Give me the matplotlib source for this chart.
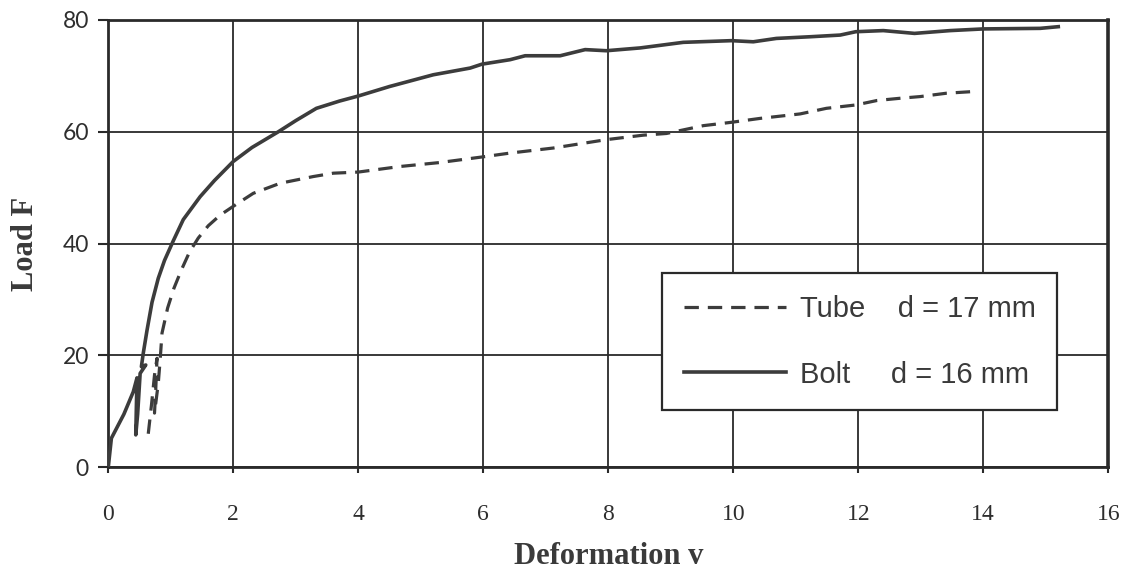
import matplotlib
matplotlib.use("Agg")
import matplotlib.pyplot as plt

# measured load-deformation curves
tube_v = [0.64, 0.69, 0.74, 0.78, 0.76, 0.74, 0.80, 0.83, 0.86, 0.95, 1.05, 1.17, 1.30,
          1.44, 1.60, 1.79, 2.03, 2.32, 2.75, 3.28, 3.60, 4.00, 4.67, 5.30, 5.98, 6.43,
          7.12, 7.97, 8.56, 8.93, 9.52, 9.97, 10.43, 11.07, 11.49, 11.96, 12.30, 12.67,
          12.99, 13.41, 13.84]
tube_F = [6.0, 11.0, 16.5, 19.5, 14.0, 9.7, 15.0, 19.2, 24.0, 28.5, 32.0, 35.3, 38.5,
          41.0, 43.2, 45.1, 46.9, 49.0, 50.8, 52.0, 52.6, 52.8, 53.8, 54.5, 55.5, 56.2,
          57.1, 58.6, 59.4, 59.7, 61.1, 61.7, 62.4, 63.2, 64.2, 64.8, 65.6, 66.0,
          66.3, 66.9, 67.2]

bolt_v = [0, 0.05, 0.25, 0.40, 0.46, 0.44, 0.47, 0.51, 0.60, 0.53, 0.56, 0.62, 0.70,
          0.80, 0.90, 1.04, 1.20, 1.47, 1.70, 2.00, 2.30, 2.72, 3.00, 3.33, 3.70, 4.00,
          4.50, 5.20, 5.79, 5.98, 6.43, 6.67, 7.23, 7.63, 7.97, 8.51, 9.20, 9.97, 10.32,
          10.69, 11.23, 11.71, 11.96, 12.40, 12.90, 13.47, 14.00, 14.91, 15.20]
bolt_F = [0, 5.2, 9.5, 13.5, 16.0, 5.8, 9.5, 16.8, 18.3, 18.0, 20.4, 24.5, 29.5,
          33.8, 37.0, 40.5, 44.3, 48.4, 51.3, 54.7, 57.2, 60.0, 62.0, 64.2, 65.5, 66.4,
          68.1, 70.2, 71.4, 72.1, 72.9, 73.6, 73.6, 74.7, 74.5, 75.0, 76.0, 76.3, 76.1,
          76.7, 77.0, 77.3, 77.9, 78.1, 77.6, 78.1, 78.4, 78.5, 78.8]

x_ticks = [0, 2, 4, 6, 8, 10, 12, 14, 16]
y_ticks = [0, 20, 40, 60, 80]

ink = "#3c3c3c"

fig = plt.figure(figsize=(11.36, 5.69), dpi=100)
ax = fig.add_axes([0.0953, 0.1787, 0.8803, 0.7862])

ax.plot(tube_v, tube_F, color=ink, lw=2.3, dashes=(4.5, 2.8),
        solid_capstyle="butt", label="Tube    d = 17 mm", zorder=3)
ax.plot(bolt_v, bolt_F, color=ink, lw=2.6, solid_joinstyle="round",
        label="Bolt     d = 16 mm", zorder=3)

ax.set_xlim(0, 16)
ax.set_ylim(0, 80)
ax.set_xticks(x_ticks)
ax.set_yticks(y_ticks)
ax.grid(True, color="#2a2a2a", lw=1.3)
ax.set_axisbelow(True)

for side in ["left", "bottom", "top", "right"]:
    ax.spines[side].set_color("#2a2a2a")
    ax.spines[side].set_linewidth(2.0)
ax.spines["right"].set_linewidth(2.6)

ax.tick_params(axis="y", direction="out", length=7, width=1.5, pad=7, color="#2a2a2a")
ax.tick_params(axis="x", direction="out", length=4.5, width=1.5, pad=22, color="#2a2a2a")
for lab in ax.get_xticklabels():
    lab.set_fontfamily("Liberation Serif")
    lab.set_fontsize(17)
    lab.set_color("#2e2e2e")
for lab in ax.get_yticklabels():
    lab.set_fontfamily("Lato")
    lab.set_fontsize(16.5)
    lab.set_color("#2e2e2e")

ax.set_xlabel("Deformation v", fontfamily="Liberation Serif", fontweight="bold",
              fontsize=22, color="#3a3a3a", labelpad=12)
ax.set_ylabel("Load F", fontfamily="Liberation Serif", fontweight="bold",
              fontsize=22, color="#3a3a3a", labelpad=16)

leg = ax.legend(loc="upper left", bbox_to_anchor=(0.5535, 0.4337),
                prop={"family": "Liberation Sans", "size": 21},
                frameon=True, fancybox=False, framealpha=1,
                handlelength=3.5, handletextpad=0.48, borderpad=0.75,
                labelspacing=1.28, borderaxespad=0)
leg.get_frame().set_edgecolor("#2a2a2a")
leg.get_frame().set_linewidth(1.6)
for t in leg.get_texts():
    t.set_color("#3a3a3a")

fig.savefig("out.png", dpi=100)
